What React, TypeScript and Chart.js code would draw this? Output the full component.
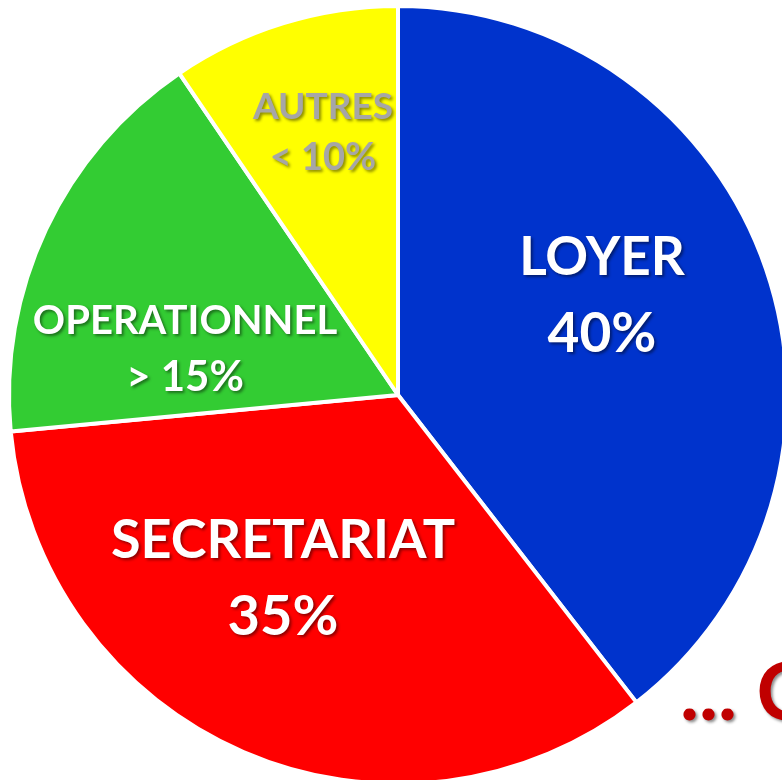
import React, { useEffect, useRef } from "react";
import { Chart, registerables } from "chart.js";

Chart.register(...registerables);

const categories = ["LOYER", "SECRETARIAT", "OPERATIONNEL", "AUTRES"];
const shares = [39.5, 34, 17, 9.5];
const shareLabels = ["40%", "35%", "> 15%", "< 10%"];
const sliceColors = ["#0033CC", "#FF0000", "#33CC33", "#FFFF00"];

const labelStyles = [
  { x: 602, y1: 258, y2: 334, size: 53, size2: 55, color: "#FFFFFF" },
  { x: 283, y1: 541, y2: 617, size: 54, size2: 56, color: "#FFFFFF" },
  { x: 185, y1: 321, y2: 377, size: 40, size2: 42, color: "#FFFFFF" },
  { x: 323, y1: 107, y2: 158, size: 37, size2: 38, color: "#A6A6A6" },
];

const FONT = "Lato, 'Open Sans', sans-serif";

const labelPlugin = {
  id: "sliceLabels",
  afterDraw(chart: any) {
    const ctx = chart.ctx as CanvasRenderingContext2D;
    ctx.save();
    ctx.textAlign = "center";
    ctx.textBaseline = "middle";
    ctx.shadowColor = "rgba(0,0,0,0.45)";
    ctx.shadowOffsetX = 2;
    ctx.shadowOffsetY = 2;
    ctx.shadowBlur = 3;
    categories.forEach((c, i) => {
      const s = labelStyles[i];
      ctx.fillStyle = s.color;
      ctx.font = `bold ${s.size}px ${FONT}`;
      ctx.fillText(c, s.x, s.y1);
      ctx.font = `bold ${s.size2}px ${FONT}`;
      ctx.fillText(shareLabels[i], s.x, s.y2);
    });
    ctx.font = `bold 80px ${FONT}`;
    ctx.fillStyle = "#C00000";
    ctx.textAlign = "left";
    ctx.fillText("... C", 680, 694);
    ctx.restore();
  },
};

export default function App() {
  const ref = useRef<HTMLCanvasElement | null>(null);
  useEffect(() => {
    if (!ref.current) return;
    const chart = new Chart(ref.current, {
      type: "pie",
      data: {
        labels: categories,
        datasets: [
          {
            data: shares,
            backgroundColor: sliceColors,
            borderColor: "#FFFFFF",
            borderWidth: 4,
          },
        ],
      },
      options: {
        responsive: false,
        animation: false,
        radius: 389,
        layout: { padding: 0 },
        plugins: {
          legend: { display: false },
          tooltip: { enabled: false },
        },
      } as any,
      plugins: [labelPlugin],
    });
    return () => chart.destroy();
  }, []);
  return (
    <div
      style={{
        position: "fixed",
        left: 0,
        top: 0,
        width: 782,
        height: 780,
        overflow: "hidden",
        background: "#FFFFFF",
      }}
    >
      <canvas
        ref={ref}
        width={796}
        height={790}
        style={{ position: "absolute", left: 0, top: 0, width: 796, height: 790 }}
      />
    </div>
  );
}
